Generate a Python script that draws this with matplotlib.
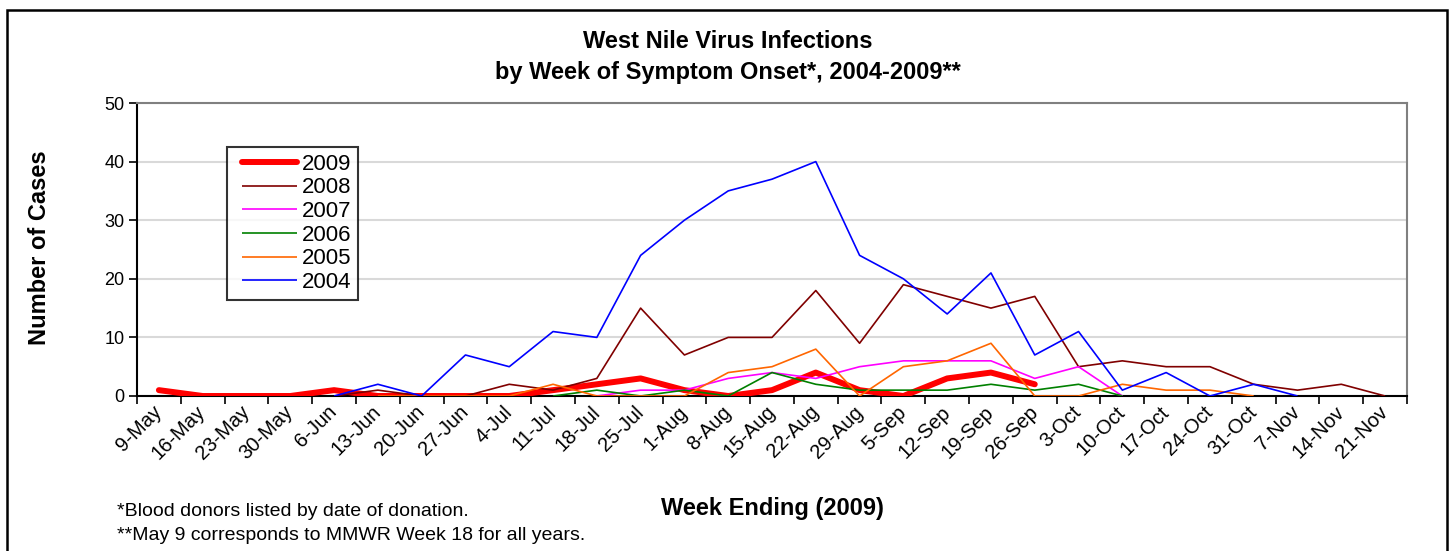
import numpy as np
import matplotlib
matplotlib.use("Agg")
import matplotlib.pyplot as plt
from matplotlib.patches import Rectangle
from matplotlib.lines import Line2D
from matplotlib.legend_handler import HandlerLine2D

plt.rcParams['font.family'] = ['Liberation Sans', 'DejaVu Sans']

nan = np.nan

weeks = ['9-May', '16-May', '23-May', '30-May', '6-Jun', '13-Jun', '20-Jun', '27-Jun',
         '4-Jul', '11-Jul', '18-Jul', '25-Jul', '1-Aug', '8-Aug', '15-Aug', '22-Aug',
         '29-Aug', '5-Sep', '12-Sep', '19-Sep', '26-Sep', '3-Oct', '10-Oct', '17-Oct',
         '24-Oct', '31-Oct', '7-Nov', '14-Nov', '21-Nov']

y2009 = [1, 0, 0, 0, 1, 0, 0, 0, 0, 1, 2, 3, 1, 0, 1, 4, 1, 0, 3, 4, 2] + [nan] * 8
y2008 = [nan] * 4 + [0, 1, 0, 0, 2, 1, 3, 15, 7, 10, 10, 18, 9, 19, 17, 15, 17,
                     5, 6, 5, 5, 2, 1, 2, 0]
y2007 = [nan] * 10 + [0, 1, 1, 3, 4, 3, 5, 6, 6, 6, 3, 5, 0] + [nan] * 6
y2006 = [nan] * 9 + [0, 1, 0, 1, 0, 4, 2, 1, 1, 1, 2, 1, 2, 0] + [nan] * 6
y2005 = [nan] * 5 + [0, 0, 0, 0, 2, 0, 0, 0, 4, 5, 8, 0, 5, 6, 9, 0, 0, 2, 1, 1, 0] + [nan] * 3
y2004 = [nan] * 4 + [0, 2, 0, 7, 5, 11, 10, 24, 30, 35, 37, 40, 24, 20, 14, 21, 7,
                     11, 1, 4, 0, 2, 0] + [nan] * 2

series = [
    ('2009', y2009, '#ff0000', 4.3),
    ('2008', y2008, '#800000', 1.2),
    ('2007', y2007, '#ff00ff', 1.2),
    ('2006', y2006, '#008000', 1.2),
    ('2005', y2005, '#ff6600', 1.2),
    ('2004', y2004, '#0000ff', 1.2),
]

fig = plt.figure(figsize=(14.55, 5.51), dpi=100)
ax = fig.add_axes([137 / 1455, 1 - 396 / 551, (1407 - 137) / 1455, (396 - 103) / 551])

x = np.arange(len(weeks))
for i, (name, vals, col, lw) in enumerate(series):
    ax.plot(x, vals, color=col, lw=lw, label=name, zorder=3 + i,
            solid_capstyle='round' if lw > 2 else 'butt')

ax.set_xlim(-0.5, len(weeks) - 0.5)
ax.set_ylim(0, 50)
ax.set_yticks(range(0, 51, 10))
ax.yaxis.grid(True, color='#d9d9d9', lw=1.5, zorder=0)
ax.set_axisbelow(True)

# category labels sit at the centres, tick marks between categories
ax.set_xticks(x)
ax.set_xticklabels(weeks, rotation=45, ha='right', va='center', rotation_mode='anchor')
ax.set_xticks(np.arange(-0.5, len(weeks)), minor=True)
ax.tick_params(axis='x', which='major', length=0, pad=9.4, labelsize=14.5)
ax.tick_params(axis='x', which='minor', length=6, width=1.2, direction='out')
ax.tick_params(axis='y', length=6, width=1.2, direction='out', labelsize=13, pad=3)

for s in ['left', 'bottom']:
    ax.spines[s].set_color('black')
    ax.spines[s].set_linewidth(1.5)
for s in ['top', 'right']:
    ax.spines[s].set_color('#808080')
    ax.spines[s].set_linewidth(1.5)

leg = ax.legend(loc='upper left', bbox_to_anchor=(0.0709, 0.85), fontsize=16,
                frameon=True, fancybox=False, edgecolor='black', handlelength=2.86,
                handletextpad=0.22, labelspacing=0.12, borderpad=0.3, borderaxespad=0,
                handler_map={Line2D: HandlerLine2D(xpad=0.36)})
leg.get_frame().set_linewidth(1.5)

fig.text(0.5, 1 - 41 / 551, 'West Nile Virus Infections', ha='center', va='center',
         fontsize=17, fontweight='bold')
fig.text(0.5, 1 - 72 / 551, 'by Week of Symptom Onset*, 2004-2009**', ha='center',
         va='center', fontsize=17, fontweight='bold')
fig.text(40 / 1455, 1 - 248 / 551, 'Number of Cases', rotation=90, ha='center',
         va='center', fontsize=17, fontweight='bold')
fig.text(772 / 1455, 1 - 508 / 551, 'Week Ending (2009)', ha='center', va='center',
         fontsize=17, fontweight='bold')
fig.text(117 / 1455, 1 - 512 / 551, '*Blood donors listed by date of donation.',
         ha='left', va='center', fontsize=14)
fig.text(117 / 1455, 1 - 535 / 551, '**May 9 corresponds to MMWR Week 18 for all years.',
         ha='left', va='center', fontsize=14)

fig.patches.append(Rectangle((7 / 1455, -0.1), 1440 / 1455, 1.1 - 10 / 551,
                             transform=fig.transFigure, fill=False, edgecolor='black',
                             lw=1.8))

fig.savefig('out.png', dpi=100)
